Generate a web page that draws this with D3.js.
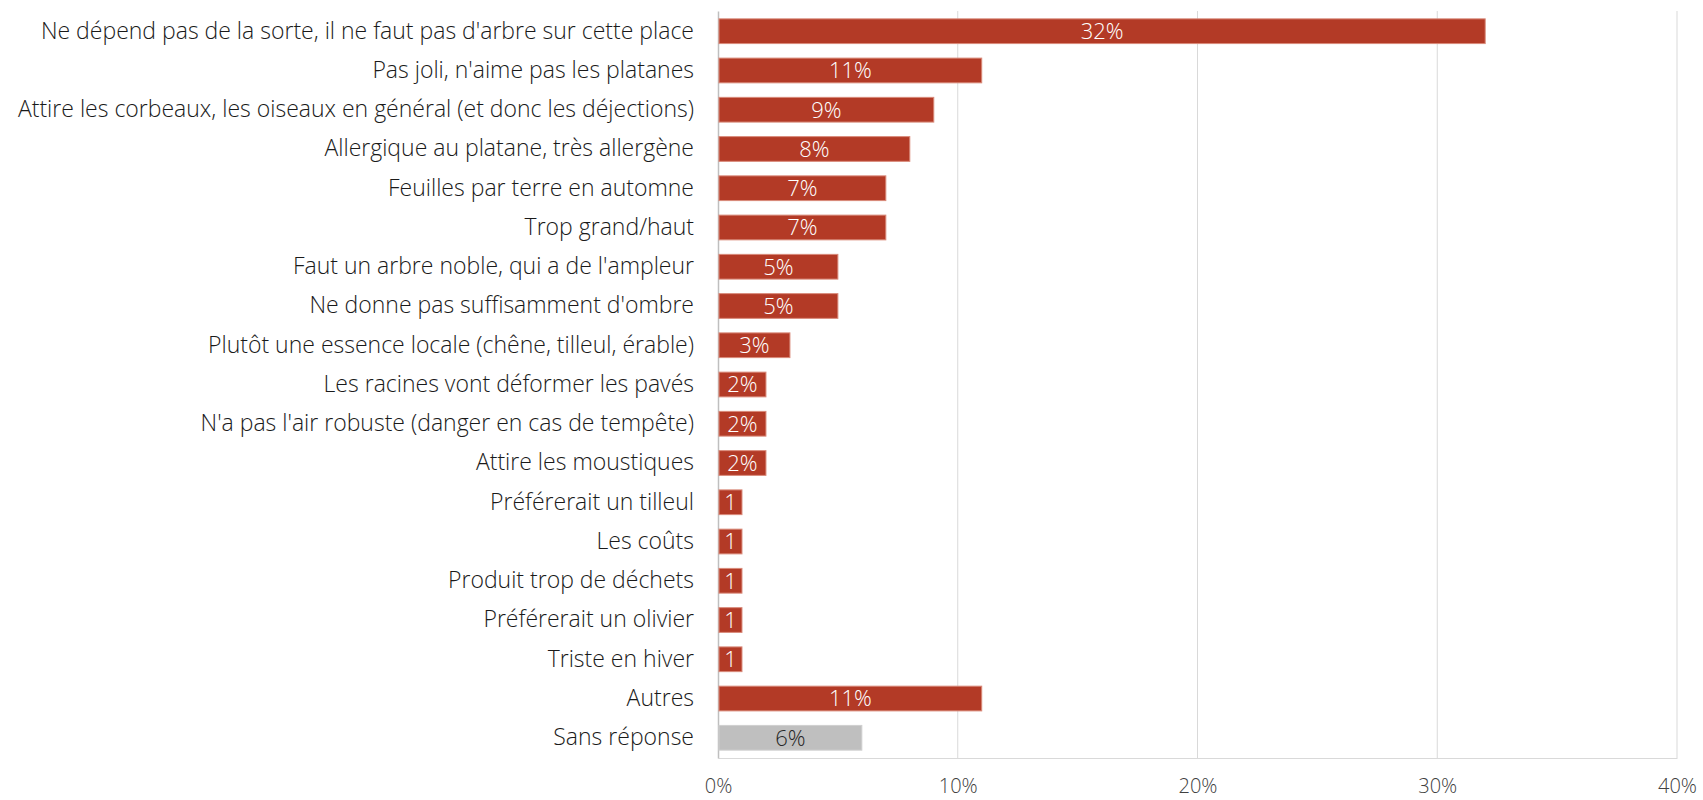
<!DOCTYPE html>
<html>
<head>
<meta charset="utf-8">
<script src="https://cdn.jsdelivr.net/npm/d3@7"></script>
<style>
  body { margin: 0; background: #fff; }
  svg text { font-family: "Open Sans", Lato, sans-serif; font-weight: 300; }
</style>
</head>
<body>
<svg id="chart" width="1703" height="800"></svg>
<script>
// reasons given against the plane tree, in display order
const categories = [
  "Ne dépend pas de la sorte, il ne faut pas d'arbre sur cette place",
  "Pas joli, n'aime pas les platanes",
  "Attire les corbeaux, les oiseaux en général (et donc les déjections)",
  "Allergique au platane, très allergène",
  "Feuilles par terre en automne",
  "Trop grand/haut",
  "Faut un arbre noble, qui a de l'ampleur",
  "Ne donne pas suffisamment d'ombre",
  "Plutôt une essence locale (chêne, tilleul, érable)",
  "Les racines vont déformer les pavés",
  "N'a pas l'air robuste (danger en cas de tempête)",
  "Attire les moustiques",
  "Préférerait un tilleul",
  "Les coûts",
  "Produit trop de déchets",
  "Préférerait un olivier",
  "Triste en hiver",
  "Autres",
  "Sans réponse"
];
const values = [32, 11, 9, 8, 7, 7, 5, 5, 3, 2, 2, 2, 1, 1, 1, 1, 1, 11, 6];
// the tiny bars only show a clipped "1" in the original
const valueLabels = ["32%", "11%", "9%", "8%", "7%", "7%", "5%", "5%", "3%", "2%", "2%", "2%",
  "1", "1", "1", "1", "1", "11%", "6%"];
const tickValues = [0, 10, 20, 30, 40];

const svg = d3.select('#chart');
const margin = { top: 11, right: 26, bottom: 42, left: 718 };
const width = 1703 - margin.left - margin.right;
const height = 800 - margin.top - margin.bottom;

const g = svg.append('g')
  .attr('transform', 'translate(' + margin.left + ',' + margin.top + ')');

const x = d3.scaleLinear().domain([0, 40]).range([0, width]);
const y = d3.scaleBand().domain(categories).range([0, height]).paddingInner(0.37).paddingOuter(0.2);

// gridlines
g.selectAll('.grid')
  .data(tickValues.slice(1))
  .enter()
  .append('line')
  .attr('class', 'grid')
  .attr('x1', d => x(d)).attr('x2', d => x(d))
  .attr('y1', 0).attr('y2', height)
  .style('stroke', '#d9d9d9')
  .style('stroke-width', 1);

// bottom axis
const xAxis = g.append('g')
  .attr('transform', 'translate(0,' + height + ')')
  .call(d3.axisBottom(x).tickValues(tickValues).tickSize(0).tickPadding(21).tickFormat(d => d + '%'));
xAxis.select('.domain').style('stroke', '#d9d9d9');
xAxis.selectAll('text').style('font-size', '20px').style('fill', '#404040');

// left axis
const yAxis = g.append('g')
  .call(d3.axisLeft(y).tickSize(0).tickPadding(24));
yAxis.select('.domain').style('stroke', '#bfbfbf').style('stroke-width', 1.5);
yAxis.selectAll('text').style('font-size', '23px').style('fill', '#1a1a1a');

// bars
g.selectAll('.bar')
  .data(values)
  .enter()
  .append('rect')
  .attr('class', 'bar')
  .attr('x', 1)
  .attr('y', (d, i) => y(categories[i]))
  .attr('width', d => x(d) - 1)
  .attr('height', y.bandwidth())
  .style('fill', (d, i) => categories[i] === 'Sans réponse' ? '#bfbfbf' : '#b33a26')
  .style('stroke', (d, i) => categories[i] === 'Sans réponse' ? '#d0d0d0' : '#d98a7a')
  .style('stroke-width', 1);

// value labels
g.selectAll('.value')
  .data(values)
  .enter()
  .append('text')
  .attr('class', 'value')
  .attr('x', d => x(d) / 2 + 0.5)
  .attr('y', (d, i) => y(categories[i]) + y.bandwidth() / 2)
  .attr('dy', '0.36em')
  .attr('text-anchor', 'middle')
  .style('font-size', '22px')
  .style('fill', (d, i) => categories[i] === 'Sans réponse' ? '#262626' : '#ffffff')
  .text((d, i) => valueLabels[i]);
</script>
</body>
</html>
